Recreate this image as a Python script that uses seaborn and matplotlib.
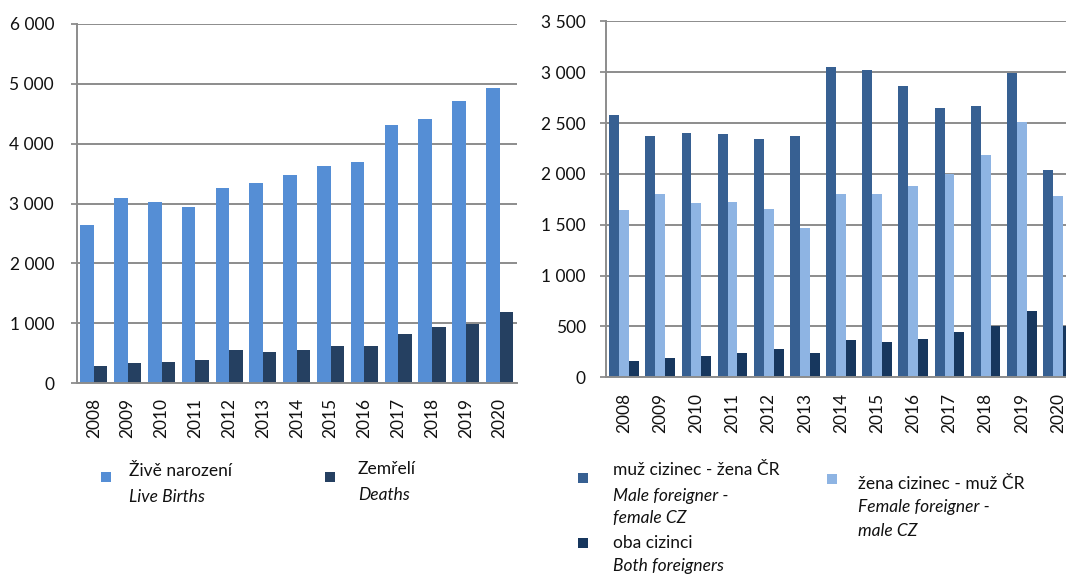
import matplotlib
matplotlib.use("Agg")
import matplotlib.pyplot as plt
from matplotlib.patches import Rectangle
import numpy as np
import pandas as pd
import seaborn as sns

years = [str(y) for y in range(2008, 2021)]

# Left chart
births = [2640, 3100, 3020, 2940, 3260, 3340, 3480, 3620, 3690, 4310, 4420, 4715, 4930]
deaths = [280, 335, 358, 385, 547, 514, 547, 620, 620, 816, 944, 983, 1190]

# Right chart
male_foreigner = [2576, 2370, 2399, 2389, 2340, 2370, 3048, 3019, 2861, 2652, 2671, 2996, 2042]
female_foreigner = [1645, 1803, 1711, 1724, 1658, 1468, 1803, 1803, 1878, 2003, 2183, 2514, 1783]
both_foreigners = [161, 190, 210, 243, 275, 243, 367, 347, 380, 442, 505, 649, 501]

left_ticks = [0, 1000, 2000, 3000, 4000, 5000, 6000]
right_ticks = [0, 500, 1000, 1500, 2000, 2500, 3000, 3500]

left_series = ["births", "deaths"]
left_colors = ["#558ED5", "#254061"]
right_series = ["male", "female", "both"]
right_colors = ["#376092", "#8EB4E3", "#17375E"]

sns.set_theme(style="white")
plt.rcParams["font.family"] = ["Lato", "DejaVu Sans"]

FS = 12.5
fig = plt.figure(figsize=(10.66, 5.74), dpi=100)
W, H = 1066, 574


def axes_px(l, t, r, b):
    return fig.add_axes([l / W, 1 - b / H, (r - l) / W, (b - t) / H])


ax1 = axes_px(77, 24, 516.5, 383)
ax2 = axes_px(606, 21.3, 1076, 377.3)

df1 = pd.DataFrame({
    "year": years * 2,
    "value": births + deaths,
    "series": [left_series[0]] * len(years) + [left_series[1]] * len(years),
})
df2 = pd.DataFrame({
    "year": years * 3,
    "value": male_foreigner + female_foreigner + both_foreigners,
    "series": [right_series[0]] * len(years) + [right_series[1]] * len(years)
    + [right_series[2]] * len(years),
})

sns.barplot(data=df1, x="year", y="value", hue="series", order=years,
            hue_order=left_series, palette=left_colors, saturation=1,
            width=0.8, gap=0, legend=False, ax=ax1, linewidth=0, errorbar=None)
sns.barplot(data=df2, x="year", y="value", hue="series", order=years,
            hue_order=right_series, palette=right_colors, saturation=1,
            width=0.82, gap=0, legend=False, ax=ax2, linewidth=0, errorbar=None)

grid_col = "#8C8C8C"


def fmt(v):
    return f"{v:,}".replace(",", " ")


for ax, ticks, ypad in ((ax1, left_ticks, 12.5), (ax2, right_ticks, 10.5)):
    ax.set_xlim(-0.5, len(years) - 0.5)
    ax.set_ylim(ticks[0], ticks[-1])
    ax.set_yticks(ticks)
    ax.set_yticklabels([fmt(t) for t in ticks], fontsize=FS, color="#111111")
    ax.set_xticks(range(len(years)))
    ax.set_xticklabels(years, rotation=90, fontsize=FS, color="#111111")
    ax.set_xticks(np.arange(-0.5, len(years), 1.0), minor=True)
    ax.tick_params(axis="x", which="major", length=0, pad=11)
    ax.tick_params(axis="x", which="minor", length=5, width=1.3, color=grid_col, direction="out")
    ax.tick_params(axis="y", which="major", length=4, width=1.3, color=grid_col,
                   direction="out", pad=ypad, left=True)
    ax.yaxis.grid(True, color=grid_col, linewidth=1.4)
    ax.set_axisbelow(True)
    for s in ("top", "right"):
        ax.spines[s].set_visible(False)
    for s in ("left", "bottom"):
        ax.spines[s].set_visible(True)
        ax.spines[s].set_color(grid_col)
        ax.spines[s].set_linewidth(1.4)
    ax.set_xlabel("")
    ax.set_ylabel("")


def legend_entry(x_marker, y_marker, color, x_text, lines):
    # lines: list of (y_center, text, italic)
    fig.patches.append(Rectangle((x_marker / W, 1 - (y_marker + 5) / H), 10 / W, 10 / H,
                                 transform=fig.transFigure, facecolor=color,
                                 edgecolor="none", figure=fig))
    for yc, txt, it in lines:
        fig.text(x_text / W, 1 - yc / H, txt, fontsize=FS,
                 style="italic" if it else "normal", va="center", ha="left",
                 color="#111111")


legend_entry(101, 477, left_colors[0], 129,
             [(471, "Živě narození", False), (497, "Live Births", True)])
legend_entry(325, 477, left_colors[1], 358,
             [(469, "Zemřelí", False), (495, "Deaths", True)])

legend_entry(578, 478, right_colors[0], 613,
             [(470, "muž cizinec - žena ČR", False), (496, "Male foreigner -", True),
              (518, "female CZ", True)])
legend_entry(578, 543, right_colors[2], 613,
             [(543, "oba cizinci", False), (566, "Both foreigners", True)])
legend_entry(827, 479, right_colors[1], 858,
             [(484, "žena cizinec - muž ČR", False), (507, "Female foreigner -", True),
              (531, "male CZ", True)])

fig.savefig("out.png", dpi=100, facecolor="white")
